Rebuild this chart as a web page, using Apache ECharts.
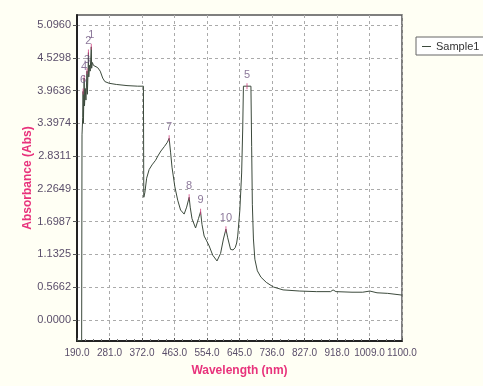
<!DOCTYPE html>
<html>
<head>
<meta charset="utf-8">
<script src="https://cdn.jsdelivr.net/npm/echarts@6/dist/echarts.min.js"></script>
<style>
  html, body { margin: 0; padding: 0; background: #fffff4; }
  #chartSpectrum { width: 483px; height: 386px; }
</style>
</head>
<body>
<div id="chartSpectrum"></div>
<script>
// spectrum, wavelength (nm) / absorbance (Abs)
var wavelengths = [
    190, 203, 204, 206, 207, 208, 209, 210, 211, 213, 215, 218, 219, 221, 222, 223, 225, 227, 230, 231,
    233, 236, 240, 248, 255, 262, 268, 280, 300, 330, 360, 376, 377, 380, 385, 392, 400, 410, 418, 425,
    435, 443, 448, 452, 456, 464, 472, 480, 490, 497, 504, 507, 512, 522, 530, 536, 540, 546, 552, 560,
    570, 582, 592, 600, 607, 612, 620, 627, 633, 637, 640, 646, 651, 654, 656, 677, 679, 681, 684, 688,
    695, 705, 720, 740, 767, 814, 860, 900, 907, 915, 960, 990, 1010, 1030, 1060, 1100
];
var absorbance = [
    -0.36, -0.36, 3.2, 3.5, 3.95, 3.4, 3.8, 4.18, 3.7, 4.0, 3.8, 4.3, 3.9, 4.3, 4.62, 4.2, 4.4, 4.3, 4.72, 4.35,
    4.45, 4.4, 4.40, 4.36, 4.30, 4.18, 4.12, 4.09, 4.07, 4.05, 4.04, 4.04, 2.12, 2.20, 2.45, 2.60, 2.68, 2.76, 2.85, 2.92,
    3.00, 3.07, 3.14, 2.90, 2.64, 2.30, 2.07, 1.90, 1.83, 1.95, 2.12, 1.95, 1.75, 1.59, 1.75, 1.87, 1.65, 1.45, 1.38, 1.28,
    1.12, 1.02, 1.15, 1.40, 1.57, 1.42, 1.22, 1.21, 1.25, 1.33, 1.45, 1.90, 2.54, 3.30, 4.04, 4.04, 3.00, 2.00, 1.40, 1.05,
    0.85, 0.74, 0.65, 0.57, 0.52, 0.50, 0.49, 0.49, 0.52, 0.49, 0.48, 0.48, 0.50, 0.47, 0.46, 0.43
];

// peak picks
var peakNames = ['1', '2', '3', '4', '6', '7', '8', '9', '10', '5'];
var peakWavelengths = [230, 222, 218, 210, 207, 448, 504, 536, 607, 666];
var peakValues = [4.72, 4.62, 4.3, 4.18, 3.95, 3.14, 2.12, 1.87, 1.57, 4.04];

var xTicks = [190, 281, 372, 463, 554, 645, 736, 827, 918, 1009, 1100];
var yTicks = [0.0000, 0.5662, 1.1325, 1.6987, 2.2649, 2.8311, 3.3974, 3.9636, 4.5298, 5.0960];

function renderSpectrum() {
    var domSpectrum = document.getElementById('chartSpectrum');
    var myChartSpectrum = echarts.init(domSpectrum);

    var lineData = wavelengths.map(function(w, i) { return [w, absorbance[i]]; });
    var peakData = peakNames.map(function(n, i) {
        return { name: n, value: [peakWavelengths[i], peakValues[i]] };
    });

    var optionSpectrum = {
        backgroundColor: '#fffff4',
        animation: false,
        textStyle: { fontFamily: 'Liberation Sans, Arial, sans-serif' },
        legend: {
            data: [{ name: 'Sample1', icon: 'rect' }],
            left: 416,
            top: 37,
            orient: 'vertical',
            backgroundColor: '#ffffff',
            borderColor: '#666',
            borderWidth: 1,
            borderRadius: 0,
            padding: [4, 20, 3, 6],
            itemWidth: 9,
            itemHeight: 1,
            itemGap: 0,
            textStyle: { fontSize: 11, color: '#333' }
        },
        grid: {
            left: 77,
            right: 81,
            top: 15,
            bottom: 45,
            show: true,
            backgroundColor: '#ffffff',
            borderColor: '#555',
            borderWidth: 1.5
        },
        xAxis: {
            type: 'value',
            min: 190,
            max: 1100,
            interval: 91,
            name: 'Wavelength (nm)',
            nameLocation: 'middle',
            nameGap: 24,
            nameMoveOverlap: false,
            nameTextStyle: { color: '#e8337c', fontSize: 12, fontWeight: 'bold' },
            axisLine: { onZero: false, lineStyle: { color: '#222', width: 2 } },
            axisTick: { show: true, inside: true, length: 3, lineStyle: { color: '#555' } },
            minorTick: { show: true, splitNumber: 4, length: 2, lineStyle: { color: '#777' } },
            axisLabel: {
                color: '#5a4e6a',
                fontSize: 10,
                margin: 7,
                hideOverlap: false,
                customValues: xTicks,
                formatter: function(v) { return v.toFixed(1); }
            },
            splitLine: { show: true, lineStyle: { color: '#aaa', type: [3, 3] } }
        },
        yAxis: {
            type: 'value',
            min: -0.363,
            max: 5.27,
            name: 'Absorbance (Abs)',
            nameLocation: 'middle',
            nameGap: 43,
            nameMoveOverlap: false,
            nameTextStyle: { color: '#e8337c', fontSize: 12, fontWeight: 'bold' },
            axisLine: { show: true, onZero: false, lineStyle: { color: '#222', width: 2 } },
            axisTick: { show: true, length: 4, customValues: yTicks, lineStyle: { color: '#555' } },
            axisLabel: {
                color: '#5a4e6a',
                fontSize: 11,
                margin: 6,
                customValues: yTicks,
                formatter: function(v) { return v.toFixed(4); }
            },
            splitLine: { show: true, lineStyle: { color: '#aaa', type: [3, 3] } }
        },
        series: [{
            name: 'Sample1',
            type: 'line',
            data: lineData,
            symbol: 'none',
            color: '#3c4a3c',
            lineStyle: { width: 1, color: '#3c4a3c' },
            clip: true
        }, {
            name: 'peaks',
            type: 'scatter',
            data: peakData,
            symbol: 'rect',
            symbolSize: [1, 6],
            itemStyle: { color: '#d04080' },
            label: {
                show: true,
                position: 'top',
                distance: 3,
                color: '#6e5580',
                fontSize: 11,
                formatter: '{b}'
            },
            z: 3
        }]
    };

    if (optionSpectrum && typeof optionSpectrum === 'object') {
        myChartSpectrum.setOption(optionSpectrum);
    }

    window.onresize = function() {
        myChartSpectrum.resize();
    };
}
renderSpectrum();
</script>
</body>
</html>
